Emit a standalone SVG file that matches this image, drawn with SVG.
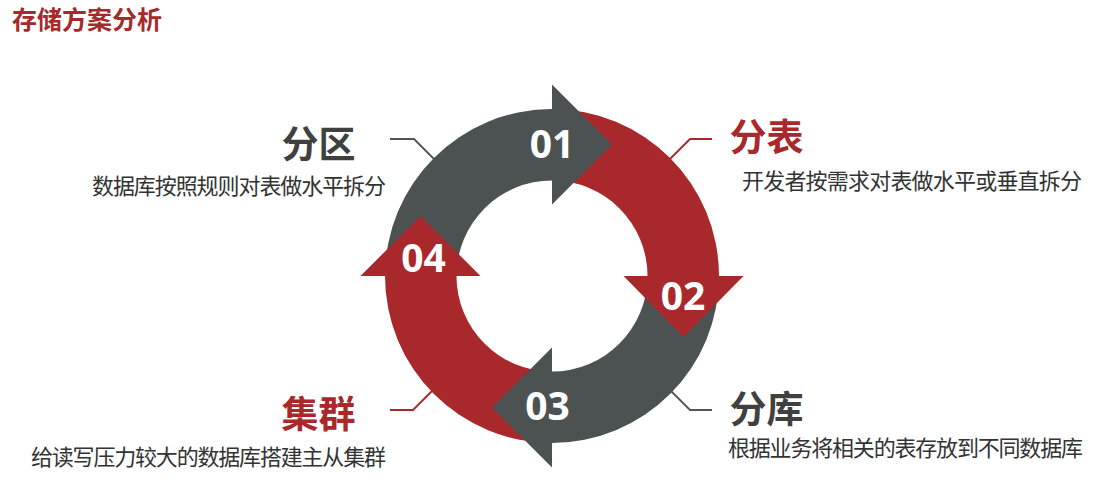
<svg xmlns="http://www.w3.org/2000/svg" width="1095" height="483" viewBox="0 0 1095 483">
<style>
.red{fill:#A8282B}
.gray{fill:#4C5152}
.num{font-family:"Open Sans","Liberation Sans",sans-serif;font-weight:700;font-size:39px;fill:#FFFFFF;text-anchor:middle}
.head{font-family:"Noto Sans CJK SC",sans-serif;font-weight:700;font-size:37px}
.sub{font-family:"Noto Sans CJK SC",sans-serif;font-weight:400;font-size:22px;fill:#333333}
.lr{fill:none;stroke:#A8282B;stroke-width:1.8}
.lg{fill:none;stroke:#555555;stroke-width:1.8}
</style>
<rect x="0" y="0" width="1095" height="483" fill="#FFFFFF"/>
<text id="title" x="12" y="29" font-family="Noto Sans CJK SC, sans-serif" font-weight="700" font-size="25" fill="#A52A2A">存储方案分析</text>
<g id="connectors">
<polyline class="lg" points="390,139 414,139 436,161"/>
<polyline class="lr" points="712,139 690,139 668,161"/>
<polyline class="lr" points="390,410 413,410 436,387"/>
<polyline class="lg" points="712,410 690,410 668,388"/>
</g>
<g id="ring">
<path id="seg01" class="gray" d="M385 276 A167 167 0 0 1 552 109 L552 180.5 A95.5 95.5 0 0 0 456.5 276 Z"/>
<path id="seg02" class="red" d="M552 109 A167 167 0 0 1 719 276 L647.5 276 A95.5 95.5 0 0 0 552 180.5 Z"/>
<path id="seg03" class="gray" d="M719 276 A167 167 0 0 1 552 443 L552 371.5 A95.5 95.5 0 0 0 647.5 276 Z"/>
<path id="seg04" class="red" d="M552 443 A167 167 0 0 1 385 276 L456.5 276 A95.5 95.5 0 0 0 552 371.5 Z"/>
</g>
<g id="step01">
<polygon class="gray" points="552,84.5 612,144.5 552,204.5"/>
<text class="num" x="552" y="158">01</text>
</g>
<g id="step02">
<polygon class="red" points="743.5,276 683.5,337 623.5,276"/>
<text class="num" x="683" y="310">02</text>
</g>
<g id="step03">
<polygon class="gray" points="552,467.5 492,407.5 552,347.5"/>
<text class="num" x="547.5" y="420">03</text>
</g>
<g id="step04">
<polygon class="red" points="360.5,276 420.5,216 480.5,276"/>
<text class="num" x="423.5" y="272">04</text>
</g>
<g id="node-fenqu">
<text class="head" x="281.5" y="158" fill="#404040">分区</text>
<text class="sub" x="92" y="193.5" textLength="294" lengthAdjust="spacing">数据库按照规则对表做水平拆分</text>
</g>
<g id="node-fenbiao">
<text class="head" x="729.5" y="151" fill="#A8282B">分表</text>
<text class="sub" x="742" y="188.5" textLength="340" lengthAdjust="spacing">开发者按需求对表做水平或垂直拆分</text>
</g>
<g id="node-jiqun">
<text class="head" x="281.5" y="428" fill="#A8282B">集群</text>
<text class="sub" x="31" y="465" font-size="21" textLength="355" lengthAdjust="spacing">给读写压力较大的数据库搭建主从集群</text>
</g>
<g id="node-fenku">
<text class="head" x="729.5" y="423" fill="#404040">分库</text>
<text class="sub" x="728" y="456" textLength="355" lengthAdjust="spacing">根据业务将相关的表存放到不同数据库</text>
</g>
</svg>
